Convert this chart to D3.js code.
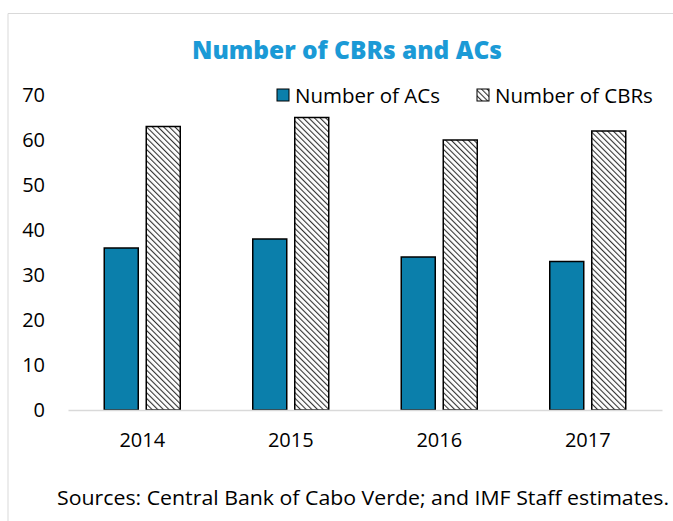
<!DOCTYPE html>
<html>
<head>
<meta charset="utf-8">
<script src="https://cdn.jsdelivr.net/npm/d3@7"></script>
<style>
  body { margin: 0; background: #fff; }
  text { font-family: "Open Sans", sans-serif; fill: #000; }
</style>
</head>
<body>
<svg id="chart" width="673" height="521"></svg>
<script>
// chart data
const years = ["2014", "2015", "2016", "2017"]
const numACs = [36, 38, 34, 33]
const numCBRs = [63, 65, 60, 62]
const yTicks = [0, 10, 20, 30, 40, 50, 60, 70]
const seriesNames = ["Number of ACs", "Number of CBRs"]

const svg = d3.select("#chart")
const margin = {top: 95, right: 11, bottom: 111, left: 68}
const width = 673 - margin.left - margin.right
const height = 521 - margin.top - margin.bottom

// hatch pattern for CBRs (lines going down to the right)
const defs = svg.append("defs")
const pat = defs.append("pattern")
  .attr("id", "hatch")
  .attr("patternUnits", "userSpaceOnUse")
  .attr("width", 4).attr("height", 4)
  .attr("patternTransform", "rotate(-45)")
pat.append("rect").attr("width", 4).attr("height", 4).attr("fill", "#fff")
pat.append("line").attr("x1", 0).attr("y1", 0).attr("x2", 0).attr("y2", 4)
  .attr("stroke", "#333").attr("stroke-width", 2.2)

// outer frame
svg.append("path")
  .attr("d", "M8,521 V13.5 H673")
  .attr("fill", "none").attr("stroke", "#d9d9d9").attr("stroke-width", 1)

svg.append("text")
  .attr("x", 347).attr("y", 59)
  .attr("text-anchor", "middle")
  .attr("textLength", 310).attr("lengthAdjust", "spacingAndGlyphs")
  .style("font-size", "24px").style("font-weight", "800")
  .style("fill", "#1b9ad6")
  .text("Number of CBRs and ACs")

const g = svg.append("g").attr("transform", `translate(${margin.left},${margin.top})`)

const x = d3.scaleBand().domain(years).range([0, width]).paddingInner(0).paddingOuter(0)
const y = d3.scaleLinear().domain([0, 70]).range([height, 0])

const barW = 34, gap = 8

// y axis labels
g.append("g")
  .call(d3.axisLeft(y).tickValues(yTicks).tickSize(0).tickPadding(23))
  .call(a => a.select(".domain").remove())
  .selectAll("text")
  .style("font-size", "20px").style("font-family", "Open Sans, sans-serif")

// bars
const groups = g.selectAll(".yr").data(years).enter().append("g")
  .attr("transform", d => `translate(${x(d) + x.bandwidth() / 2},0)`)

groups.append("rect")
  .attr("x", -gap / 2 - barW)
  .attr("y", (d, i) => y(numACs[i]))
  .attr("width", barW)
  .attr("height", (d, i) => height - y(numACs[i]))
  .attr("fill", "#0b7fab").attr("stroke", "#000").attr("stroke-width", 1.5)

groups.append("rect")
  .attr("x", gap / 2)
  .attr("y", (d, i) => y(numCBRs[i]))
  .attr("width", barW)
  .attr("height", (d, i) => height - y(numCBRs[i]))
  .attr("fill", "url(#hatch)").attr("stroke", "#000").attr("stroke-width", 1.5)

// x axis
const xa = g.append("g").attr("transform", `translate(0,${height})`)
  .call(d3.axisBottom(x).tickSize(0).tickPadding(23))
xa.select(".domain").attr("stroke", "#d9d9d9").attr("stroke-width", 1.5)
xa.selectAll("text").style("font-size", "20px").style("font-family", "Open Sans, sans-serif")

// legend
const legend = svg.append("g").attr("transform", "translate(277,89)")
const legX = [0, 200]
const legFill = ["#0b7fab", "url(#hatch)"]
seriesNames.forEach((name, i) => {
  legend.append("rect").attr("x", legX[i]).attr("y", 0).attr("width", 12).attr("height", 12)
    .attr("fill", legFill[i]).attr("stroke", "#000").attr("stroke-width", 1)
  legend.append("text").attr("x", legX[i] + 18).attr("y", 14)
    .style("font-size", "20.5px").text(name)
})

svg.append("text")
  .attr("x", 363).attr("y", 505)
  .attr("text-anchor", "middle")
  .attr("textLength", 612).attr("lengthAdjust", "spacingAndGlyphs")
  .style("font-size", "20px")
  .text("Sources: Central Bank of Cabo Verde; and IMF Staff estimates.")
</script>
</body>
</html>
